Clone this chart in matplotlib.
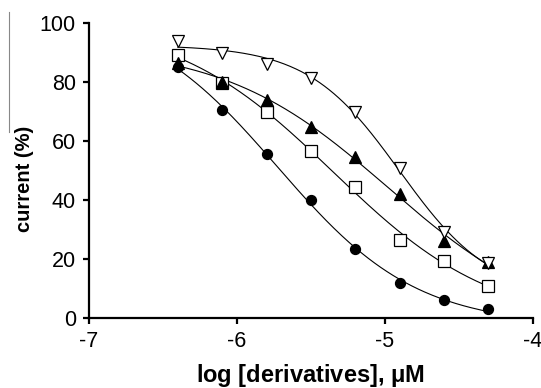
import matplotlib
matplotlib.use('Agg')
import matplotlib.pyplot as plt
from matplotlib.lines import Line2D
import numpy as np

plt.rcParams['font.family'] = ['Liberation Sans', 'DejaVu Sans']

# log concentrations (M)
log_conc = [-6.4, -6.1, -5.8, -5.5, -5.2, -4.9, -4.6, -4.3]

# current (%) for each derivative
circles = [85, 70.5, 55.5, 40, 23.3, 12, 6, 3]
squares = [89, 79.5, 70, 56.5, 44.5, 26.5, 19.3, 10.8]
tri_up = [86.5, 80, 74, 64.8, 54.7, 42, 26, 19]
tri_down = [94, 90, 86, 81.3, 70, 50.7, 29, 18.5]


def fit_logistic(x, y):
    # 4-parameter logistic, grid over centre/slope, top/bottom by least squares
    x = np.asarray(x)
    y = np.asarray(y)
    best = None
    for c in np.linspace(-7.5, -3.0, 181):
        for h in np.linspace(0.3, 3.0, 109):
            f = 1.0 / (1.0 + 10 ** ((x - c) * h))
            A = np.column_stack([np.ones_like(f), f])
            coef, res, _, _ = np.linalg.lstsq(A, y, rcond=None)
            err = np.sum((A @ coef - y) ** 2)
            if best is None or err < best[0]:
                best = (err, c, h, coef)
    _, c, h, coef = best
    return lambda xx: coef[0] + coef[1] / (1.0 + 10 ** ((xx - c) * h))


fig = plt.figure(figsize=(5.41, 3.88), dpi=100)
ax = fig.add_axes([0.1645, 0.1804, 0.8205, 0.7603])

xs = np.linspace(log_conc[0], log_conc[-1], 200)
series = [
    (circles, 'o', 'black', 7.2),
    (squares, 's', 'white', 8.0),
    (tri_up, '^', 'black', 8.5),
    (tri_down, 'v', 'white', 8.5),
]
for ys, m, fc, ms in series:
    fn = fit_logistic(log_conc, ys)
    ax.plot(xs, fn(xs), color='black', lw=0.8, zorder=2)
    ax.plot(log_conc, ys, ls='none', marker=m, ms=ms, mfc=fc, mec='black',
            mew=0.9, zorder=3, clip_on=False)

ax.set_xlim(-7, -4)
ax.set_ylim(0, 100)
ax.set_xticks([-7, -6, -5, -4])
ax.set_yticks([0, 20, 40, 60, 80, 100])
ax.set_xticklabels(['-7', '-6', '-5', '-4'])
for s in ['top', 'right']:
    ax.spines[s].set_visible(False)
for s in ['left', 'bottom']:
    ax.spines[s].set_linewidth(1.6)
ax.tick_params(direction='out', length=4.5, width=1.6, labelsize=15.5, pad=5)

ax.set_xlabel('log [derivatives], $\\mathregular{\\mu}$M', fontsize=17,
              fontweight='bold', labelpad=7)
fig.text(0.046, 0.54, 'current (%)', rotation=90, ha='center', va='center',
         fontsize=14.5, fontweight='bold')
fig.add_artist(Line2D([0.016, 0.016], [0.969, 0.66], color='#888888', lw=0.8))

fig.savefig('out.png', dpi=100)
